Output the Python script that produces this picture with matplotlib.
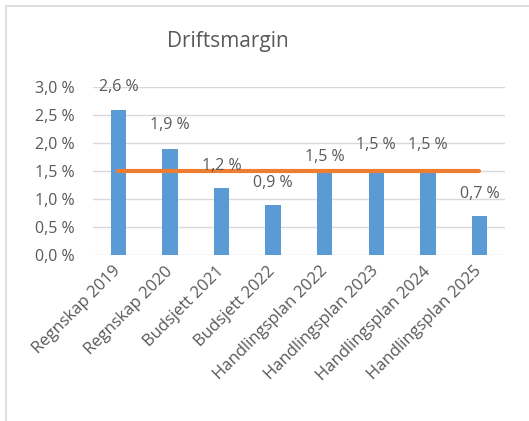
import matplotlib
matplotlib.use("Agg")
import matplotlib.pyplot as plt
from matplotlib.patches import Rectangle
from matplotlib.ticker import FuncFormatter

# Chart data
categories = ["Regnskap 2019", "Regnskap 2020", "Budsjett 2021", "Budsjett 2022",
              "Handlingsplan 2022", "Handlingsplan 2023", "Handlingsplan 2024",
              "Handlingsplan 2025"]
margin = [2.6, 1.9, 1.2, 0.9, 1.5, 1.5, 1.5, 0.7]
target = [1.5, 1.5, 1.5, 1.5, 1.5, 1.5, 1.5, 1.5]
yticks = [0.0, 0.5, 1.0, 1.5, 2.0, 2.5, 3.0]

# label offsets above bar tops (points), as Excel nudged them around the line
label_offsets = [16, 17, 16, 16, 10, 19, 19, 16]

BAR = "#5B9BD5"
LINE = "#ED7D31"
TXT = "#595959"

plt.rcParams['font.family'] = ['Open Sans', 'DejaVu Sans']

def pct(v):
    return f"{v:.1f} %".replace(".", ",")

fig = plt.figure(figsize=(5.29, 4.21), dpi=100)
fig.patches.append(Rectangle((6 / 529, -0.1), 1.2, 1 - 6 / 421 + 0.1,
                             transform=fig.transFigure, fill=False,
                             edgecolor="#d9d9d9", linewidth=1.2))

ax = fig.add_axes([0.175, 0.394, 0.78, 0.399])
x = range(len(categories))
ax.bar(x, margin, width=0.3, color=BAR, zorder=2)
ax.plot(x, target, color=LINE, linewidth=3, solid_capstyle="round", zorder=3)

for i, v in enumerate(margin):
    ax.annotate(pct(v), (i, v), xytext=(0, label_offsets[i]), textcoords="offset points",
                ha="center", va="center", fontsize=11.5, color=TXT, zorder=4)

ax.set_xlim(-0.5, len(categories) - 0.5)
ax.set_ylim(0, 3.0)
ax.set_yticks(yticks)
ax.yaxis.set_major_formatter(FuncFormatter(lambda v, _: pct(v)))
ax.grid(axis="y", color="#d9d9d9", linewidth=1, zorder=0)
ax.tick_params(axis="both", length=0, labelsize=11.5, labelcolor=TXT)
ax.tick_params(axis="y", pad=13)
ax.set_xticks(list(x))
ax.set_xticklabels(categories, rotation=45, ha="right", va="center",
                   rotation_mode="anchor", fontsize=12)
ax.tick_params(axis="x", pad=10)
for s in ax.spines.values():
    s.set_visible(False)

fig.text(228 / 529, 1 - 41 / 421, "Driftsmargin", ha="center", va="center",
         fontsize=15, color=TXT)

fig.savefig("out.png", dpi=100)
